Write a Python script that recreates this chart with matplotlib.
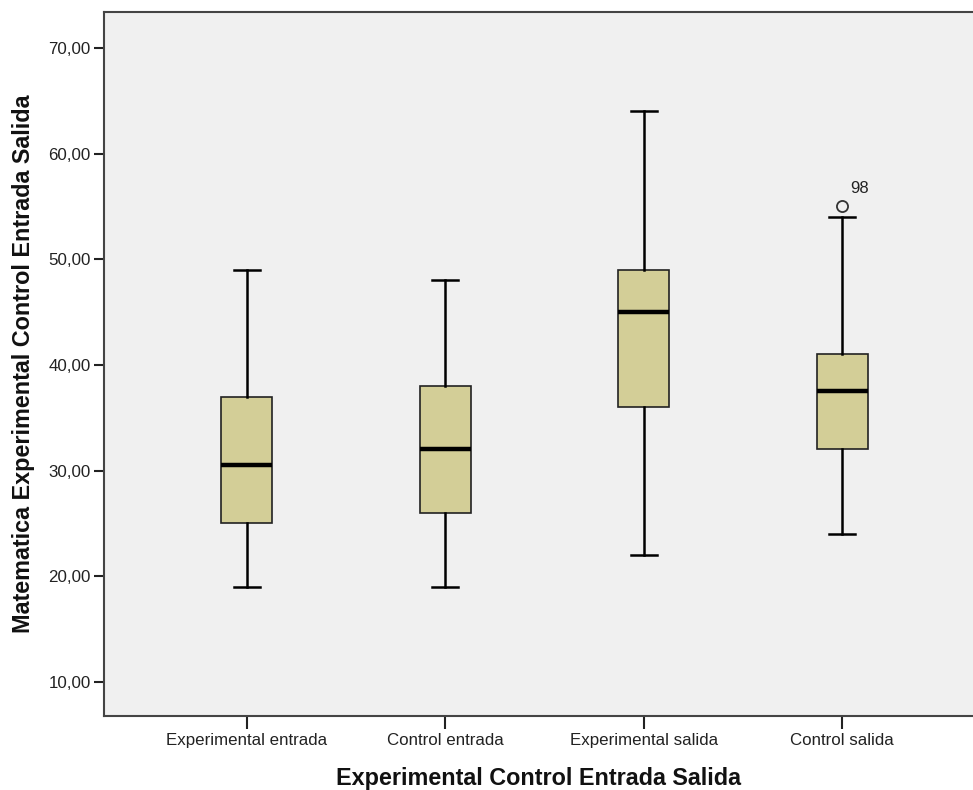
import matplotlib
matplotlib.use("Agg")
import matplotlib.pyplot as plt

categories = ["Experimental entrada", "Control entrada", "Experimental salida", "Control salida"]
whislo = [19, 19, 22, 24]
q1 = [25, 26, 36, 32]
med = [30.5, 32, 45, 37.5]
q3 = [37, 38, 49, 41]
whishi = [49, 48, 64, 54]
outliers = [[], [], [], [55]]
outlier_labels = [[], [], [], ["98"]]
yticks = [10, 20, 30, 40, 50, 60, 70]

plt.rcParams['font.family'] = ['Liberation Sans', 'DejaVu Sans']

fig = plt.figure(figsize=(9.73, 7.90), dpi=100)
ax = fig.add_axes([104/973, 1 - 716/790, (973-104)/973, (716-12)/790])
ax.set_facecolor("#F0F0F0")

stats = []
for i, c in enumerate(categories):
    stats.append(dict(label=c, whislo=whislo[i], q1=q1[i], med=med[i], q3=q3[i],
                      whishi=whishi[i], fliers=outliers[i]))

ax.bxp(stats, positions=range(len(categories)), widths=0.257, patch_artist=True,
       boxprops=dict(facecolor="#D3CE97", edgecolor="#222222", linewidth=1.2),
       medianprops=dict(color="black", linewidth=3.2),
       whiskerprops=dict(color="black", linewidth=1.8),
       capprops=dict(color="black", linewidth=1.8),
       capwidths=0.13,
       flierprops=dict(marker="o", markerfacecolor="none", markeredgecolor="#333333",
                       markersize=8, markeredgewidth=1.3))

for i in range(len(categories)):
    for v, lab in zip(outliers[i], outlier_labels[i]):
        ax.annotate(lab, (i, v), xytext=(6, 10), textcoords="offset points",
                    fontsize=12, color="#222222")

ax.set_xlim(-0.72, 3.66)
ax.set_ylim(6.78, 73.4)
ax.set_yticks(yticks)
ax.set_yticklabels([f"{v:.2f}".replace(".", ",") for v in yticks])
ax.set_xticks(range(len(categories)))
ax.set_xticklabels(categories)
ax.tick_params(axis="both", labelsize=12.2, colors="#222222", width=1.5, direction="out")
ax.tick_params(axis="y", length=7.5, pad=2)
ax.tick_params(axis="x", length=9, pad=3)

for s in ["left", "bottom", "top"]:
    ax.spines[s].set_color("#444444")
    ax.spines[s].set_linewidth(1.5)
ax.spines["right"].set_visible(False)

ax.set_xlabel("Experimental Control Entrada Salida", fontsize=16.8, fontweight="bold",
              color="#111111", labelpad=14)
ax.set_ylabel("Matematica Experimental Control Entrada Salida", fontsize=16.8, fontweight="bold",
              color="#111111", labelpad=10)

fig.savefig("out.png", dpi=100, facecolor="white")
